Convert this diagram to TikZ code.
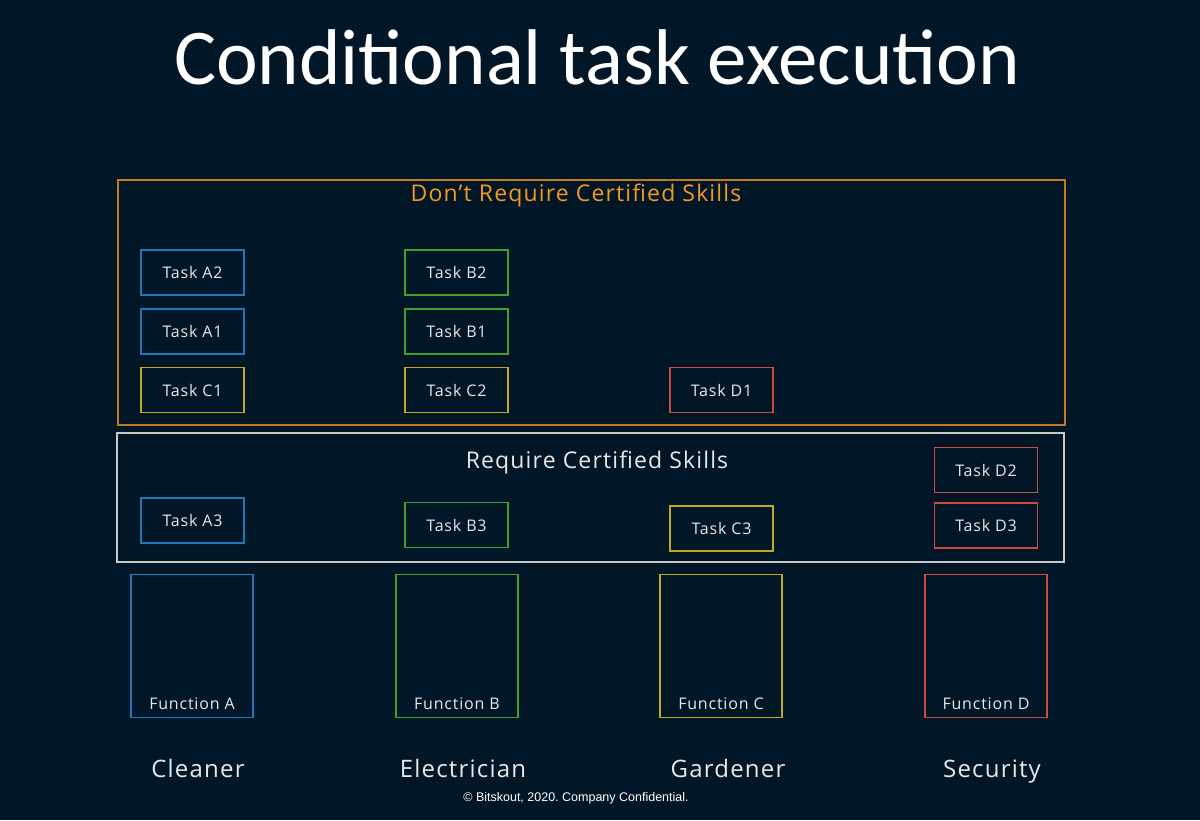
\documentclass[tikz,border=0pt]{standalone}
\usepackage{fontspec}
\setmainfont[LetterSpace=5]{Open Sans}
\newfontfamily\titlefont[Ligatures=Common]{Carlito}
\newfontfamily\footfont{Liberation Sans}
\frenchspacing
\definecolor{bg}{HTML}{011627}
\definecolor{cA}{HTML}{1E78BC}
\definecolor{cB}{HTML}{41A02E}
\definecolor{cC}{HTML}{C2A91C}
\definecolor{cD}{HTML}{CC4B3C}
\definecolor{orgline}{HTML}{C27A1E}
\definecolor{orgtext}{HTML}{F39A1E}
\definecolor{txt}{HTML}{E8E8E8}
\definecolor{grayline}{HTML}{C8C8C8}
\begin{document}
\begin{tikzpicture}[x=1pt,y=-1pt,
  taskbox/.style={draw=#1,line width=1.2pt,minimum width=103pt,minimum height=45pt,inner sep=0pt,text=txt,font=\fontsize{16}{19}\selectfont},
  funcbox/.style={draw=#1,line width=1.2pt,minimum width=122pt,minimum height=143pt,inner sep=0pt},
  functext/.style={text=txt,anchor=base,font=\fontsize{16}{19}\selectfont},
  roletext/.style={text=txt,anchor=base,font=\fontsize{24}{28}\selectfont},
  grouptext/.style={anchor=base,font=\fontsize{23}{27}\selectfont},
  groupbox/.style={draw=#1,line width=1.1pt,inner sep=0pt}]
\fill[bg] (0,0) rectangle (1200,820);
\useasboundingbox (0,0) rectangle (1200,820);
\node[text=white,anchor=base,font=\titlefont\fontsize{79}{84}\selectfont] (title) at (597,84) {Conditional task execution};
% group boxes
\node[groupbox=orgline,minimum width=947pt,minimum height=245pt] (free) at (591.5,302.5) {};
\node[grouptext,text=orgtext] (freelabel) at (576,201) {Don’t Require Certified Skills};
\node[groupbox=grayline,minimum width=947pt,minimum height=129pt] (cert) at (590.5,497.5) {};
\node[grouptext,text=txt] (certlabel) at (597,468) {Require Certified Skills};
% tasks
\node[taskbox=cA] (A2) at (192.5,272.5) {Task A2};
\node[taskbox=cA] (A1) at (192.5,331.5) {Task A1};
\node[taskbox=cC] (C1) at (192.5,390) {Task C1};
\node[taskbox=cB] (B2) at (456.5,272.5) {Task B2};
\node[taskbox=cB] (B1) at (456.5,331.5) {Task B1};
\node[taskbox=cC] (C2) at (456.5,390) {Task C2};
\node[taskbox=cD] (D1) at (721.5,390) {Task D1};
\node[taskbox=cA] (A3) at (192.5,520.5) {Task A3};
\node[taskbox=cB] (B3) at (456.5,525) {Task B3};
\node[taskbox=cC] (C3) at (721.5,528.5) {Task C3};
\node[taskbox=cD] (D2) at (986,470) {Task D2};
\node[taskbox=cD] (D3) at (986,525.5) {Task D3};
% functions
\node[funcbox=cA] (FA) at (192,646) {};
\node[funcbox=cB] (FB) at (457,646) {};
\node[funcbox=cC] (FC) at (721,646) {};
\node[funcbox=cD] (FD) at (986,646) {};
\node[functext] (FAl) at (192,709) {Function A};
\node[functext] (FBl) at (457,709) {Function B};
\node[functext] (FCl) at (721,709) {Function C};
\node[functext] (FDl) at (986,709) {Function D};
% roles
\node[roletext] (rA) at (198,777) {Cleaner};
\node[roletext] (rB) at (463,777) {Electrician};
\node[roletext] (rC) at (728,777) {Gardener};
\node[roletext] (rD) at (992,777) {Security};
\node[text=white,anchor=base,font=\footfont\fontsize{12.5}{15}\selectfont] (foot) at (576,801) {© Bitskout, 2020. Company Confidential.};
\end{tikzpicture}
\end{document}
